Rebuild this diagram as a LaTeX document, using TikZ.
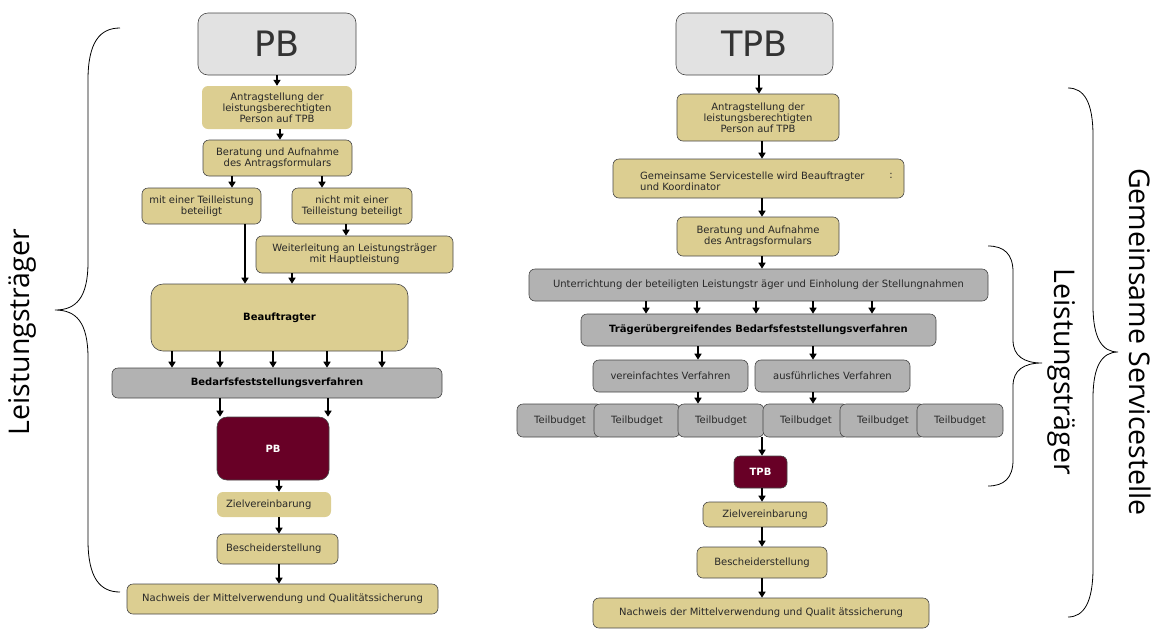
\documentclass[tikz,border=0pt]{standalone}
\usepackage{fontspec}
\setmainfont{DejaVu Sans}
\newfontfamily\bracefont{Open Sans}
\usetikzlibrary{arrows.meta}
\definecolor{tan}{RGB}{220,206,145}
\definecolor{boxgray}{RGB}{178,178,178}
\definecolor{maroon}{RGB}{104,0,38}
\definecolor{topgray}{RGB}{226,226,226}
\definecolor{edge}{RGB}{70,70,70}
\definecolor{txt}{RGB}{40,40,40}
\tikzset{
  base/.style={rounded corners=6pt, inner sep=1pt, align=center, text=txt, font=\fontsize{10}{11.2}\selectfont},
  tanbox/.style={base, fill=tan, draw=edge, line width=0.6pt},
  tannb/.style={base, fill=tan},
  graybox/.style={base, fill=boxgray, draw=edge, line width=0.6pt},
  boldtxt/.style={text=black, font=\fontsize{10}{11.2}\selectfont\bfseries},
  darkbox/.style={base, fill=maroon, draw=edge, line width=0.6pt, boldtxt, text=white},
  topbox/.style={base, fill=topgray, draw=edge, line width=0.6pt, rounded corners=10pt, font=\fontsize{35}{40}\selectfont, text=black!80},
  arr/.style={line width=1.5pt, -{Triangle[length=6pt,width=7pt]}},
  brc/.style={line width=0.8pt},
  brlabel/.style={font=\bracefont\fontsize{28.5}{32}\selectfont}
}
\begin{document}
\begin{tikzpicture}[x=1pt,y=-1pt]
\useasboundingbox (0,0) rectangle (1161,630);
% ---------- left column ----------
\node[topbox, minimum width=158pt, minimum height=62pt] (pbtop) at (277,44) {PB};
\node[tannb, minimum width=150pt, minimum height=43pt] (antL) at (277,107.5) {Antragstellung der\\leistungsberechtigten\\Person auf TPB};
\node[tanbox, minimum width=149pt, minimum height=36pt] (berL) at (277.5,158) {Beratung und Aufnahme\\des Antragsformulars};
\node[tanbox, minimum width=119pt, minimum height=36pt] (mitL) at (201.5,206) {mit einer Teilleistung\\beteiligt};
\node[tanbox, minimum width=120pt, minimum height=36pt] (nichtL) at (352,206) {nicht mit einer\\Teilleistung beteiligt};
\node[tanbox, minimum width=197pt, minimum height=37pt] (weitL) at (354.5,254.5) {Weiterleitung an Leistungsträger\\mit Hauptleistung};
\node[tanbox, rounded corners=12pt, minimum width=257pt, minimum height=67pt, boldtxt] (beaufL) at (279.5,317.5) {Beauftragter};
\node[graybox, minimum width=330pt, minimum height=30pt, boldtxt] (bedL) at (277,383) {Bedarfsfeststellungsverfahren};
\node[darkbox, rounded corners=10pt, minimum width=112pt, minimum height=63pt] (pbL) at (273,448.5) {PB};
\node[tannb, minimum width=114pt, minimum height=25pt] (zielL) at (274,504.5) {\makebox[96pt][l]{Zielvereinbarung}};
\node[tanbox, minimum width=121pt, minimum height=30pt] (beschL) at (277.5,549) {\makebox[103pt][l]{Bescheiderstellung}};
\node[tanbox, minimum width=311pt, minimum height=30pt] (nachL) at (282.5,599) {Nachweis der Mittelverwendung und Qualitätssicherung};
% left arrows
\draw[arr] (pbtop.south -| 277,0) -- (antL.north -| 277,0);
\draw[arr] (antL.south -| 280,0) -- (berL.north -| 280,0);
\draw[arr] (berL.south -| 232,0) -- (mitL.north -| 232,0);
\draw[arr] (berL.south -| 322,0) -- (nichtL.north -| 322,0);
\draw[arr] (nichtL.south -| 346,0) -- (weitL.north -| 346,0);
\draw[arr] (mitL.south -| 245,0) -- (beaufL.north -| 245,0);
\draw[arr] (weitL.south -| 292,0) -- (beaufL.north -| 292,0);
\foreach \xx in {172,220,273,327,382}{
  \draw[arr] (beaufL.south -| \xx,0) -- (bedL.north -| \xx,0);
}
\draw[arr] (bedL.south -| 220,0) -- (pbL.north -| 220,0);
\draw[arr] (bedL.south -| 328,0) -- (pbL.north -| 328,0);
\draw[arr] (pbL.south -| 279,0) -- (zielL.north -| 279,0);
\draw[arr] (zielL.south -| 279,0) -- (beschL.north -| 279,0);
\draw[arr] (beschL.south -| 279,0) -- (nachL.north -| 279,0);
% left brace
\draw[brc] (120,28) .. controls (100,28) and (88,42) .. (88,80) -- (88,262)
  .. controls (88,298) and (76,310) .. (55,310)
  .. controls (76,310) and (88,322) .. (88,358) -- (88,540)
  .. controls (88,578) and (100,592) .. (120,592);
\node[brlabel, rotate=90] (lblL) at (22,332) {Leistungsträger};
% ---------- right column ----------
\node[topbox, minimum width=157pt, minimum height=62pt] (tpbtop) at (754.5,44) {TPB};
\node[tanbox, minimum width=162pt, minimum height=47pt] (antR) at (758,117.5) {Antragstellung der\\leistungsberechtigten\\Person auf TPB};
\node[tanbox, minimum width=291pt, minimum height=39pt] (gemR) at (758.5,178.5) {};
\node[base, anchor=west, align=left] (gemT) at (639,181) {Gemeinsame Servicestelle wird Beauftragter\\und Koordinator};
\node[base] (gemC) at (891,176) {:};
\node[tanbox, minimum width=162pt, minimum height=39pt] (berR) at (758,236.5) {Beratung und Aufnahme\\des Antragsformulars};
\node[graybox, minimum width=459pt, minimum height=32pt] (untR) at (758.5,285) {Unterrichtung der beteiligten Leistungstr äger und Einholung der Stellungnahmen};
\node[graybox, minimum width=355pt, minimum height=32pt, boldtxt] (traegR) at (758.5,330) {Trägerübergreifendes Bedarfsfeststellungsverfahren};
\node[graybox, minimum width=155pt, minimum height=32pt] (verR) at (670.5,376) {vereinfachtes Verfahren};
\node[graybox, minimum width=155pt, minimum height=32pt] (ausR) at (832.5,376) {ausführliches Verfahren};
\foreach \i/\cx in {1/560,2/637,3/721,4/806,5/883,6/960}{
  \node[graybox, minimum width=86pt, minimum height=33pt] (tb\i) at (\cx,420.5) {Teilbudget};
}
\node[darkbox, minimum width=53pt, minimum height=32pt] (tpbR) at (760.5,472) {TPB};
\node[tanbox, minimum width=124pt, minimum height=25pt] (zielR) at (765,514.5) {Zielvereinbarung};
\node[tanbox, minimum width=130pt, minimum height=31pt] (beschR) at (762,562.5) {Bescheiderstellung};
\node[tanbox, minimum width=336pt, minimum height=30pt] (nachR) at (761,613) {Nachweis der Mittelverwendung und Qualit ätssicherung};
% right arrows
\draw[arr] (tpbtop.south -| 759,0) -- (antR.north -| 759,0);
\draw[arr] (antR.south -| 762,0) -- (gemR.north -| 762,0);
\draw[arr] (gemR.south -| 762,0) -- (berR.north -| 762,0);
\draw[arr] (berR.south -| 762,0) -- (untR.north -| 762,0);
\foreach \xx in {646,697,756,813,872}{
  \draw[arr] (untR.south -| \xx,0) -- (traegR.north -| \xx,0);
}
\draw[arr] (traegR.south -| 698,0) -- (verR.north -| 698,0);
\draw[arr] (traegR.south -| 813,0) -- (ausR.north -| 813,0);
\draw[arr] (verR.south -| 698,0) -- (tb3.north -| 698,0);
\draw[arr] (ausR.south -| 813,0) -- (tb4.north -| 813,0);
\draw[arr] (tb3.south -| 762,0) -- (tpbR.north -| 762,0);
\draw[arr] (tpbR.south -| 762,0) -- (zielR.north -| 762,0);
\draw[arr] (zielR.south -| 762,0) -- (beschR.north -| 762,0);
\draw[arr] (beschR.south -| 762,0) -- (nachR.north -| 762,0);
% right braces
\draw[brc] (988,246) .. controls (1004,246) and (1013,254) .. (1013,272) -- (1013,340)
  .. controls (1013,356) and (1024,363) .. (1042,363)
  .. controls (1024,363) and (1013,370) .. (1013,386) -- (1013,460)
  .. controls (1013,478) and (1004,486) .. (988,486);
\node[brlabel, rotate=-90] (lblR) at (1062,372) {Leistungsträger};
\draw[brc] (1068,88) .. controls (1084,88) and (1093,102) .. (1093,136) -- (1093,306)
  .. controls (1093,338) and (1102,352) .. (1118,352)
  .. controls (1102,352) and (1093,366) .. (1093,398) -- (1093,568)
  .. controls (1093,602) and (1084,617) .. (1068,617);
\node[brlabel, rotate=-90] (lblG) at (1140,342) {Gemeinsame Servicestelle};
\end{tikzpicture}
\end{document}
